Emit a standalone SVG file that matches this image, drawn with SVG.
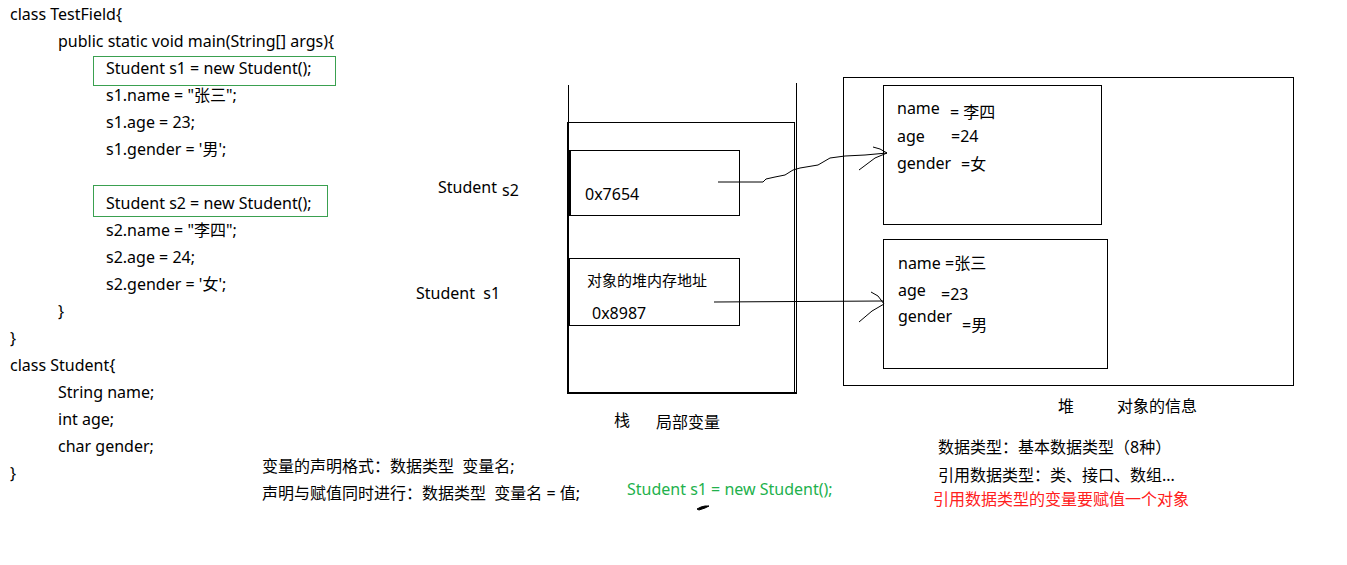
<svg xmlns="http://www.w3.org/2000/svg" width="1347" height="565" viewBox="0 0 1347 565">
<style>
text{font-family:"Noto Sans","Noto Sans CJK SC",sans-serif;font-size:16px;fill:#000;white-space:pre}
.g{fill:#22b14c}
.r{fill:#ff2020}
.box{fill:none;stroke:#000;stroke-width:1}
.hl{fill:none;stroke:#3aa050;stroke-width:1}
.ln{fill:none;stroke:#000;stroke-width:1}
</style>
<rect width="1347" height="565" fill="#fff"/>
<g id="code">
<text x="10" y="20">class TestField{</text>
<text x="58" y="47">public static void main(String[] args){</text>
<rect class="hl" x="93.5" y="56.5" width="242" height="29"/>
<text x="106" y="74">Student s1 = new Student();</text>
<text x="106" y="101">s1.name = "张三";</text>
<text x="106" y="128">s1.age = 23;</text>
<text x="106" y="155">s1.gender = '男';</text>
<rect class="hl" x="93.5" y="185.5" width="234" height="31"/>
<text x="106" y="209">Student s2 = new Student();</text>
<text x="106" y="236">s2.name = "李四";</text>
<text x="106" y="263">s2.age = 24;</text>
<text x="106" y="290">s2.gender = '女';</text>
<text x="58" y="317">}</text>
<text x="10" y="344">}</text>
<text x="10" y="371">class Student{</text>
<text x="58" y="398">String name;</text>
<text x="58" y="425">int age;</text>
<text x="58" y="452">char gender;</text>
<text x="10" y="479">}</text>
</g>
<g id="stack">
<line class="ln" x1="568.5" y1="85" x2="568.5" y2="393"/>
<line class="ln" x1="796.5" y1="83" x2="796.5" y2="394"/>
<rect class="box" x="567.5" y="122.5" width="227" height="271"/>
<line x1="567" y1="393" x2="796" y2="393" stroke="#000" stroke-width="2"/>
<text x="614" y="426">栈</text>
<text x="656" y="428">局部变量</text>
</g>
<g id="s2var">
<rect class="box" x="569.5" y="150.5" width="170" height="65"/>
<line x1="570" y1="150" x2="570" y2="216" stroke="#000" stroke-width="2"/>
<text x="438" y="193">Student</text>
<text x="502" y="196">s2</text>
<text x="585" y="200">0x7654</text>
</g>
<g id="s1var">
<rect class="box" x="569.5" y="258.5" width="170" height="67"/>
<text x="416" y="299">Student  s1</text>
<text x="587" y="286" style="font-size:15px">对象的堆内存地址</text>
<text x="592" y="319">0x8987</text>
</g>
<g id="heap">
<rect class="box" x="843.5" y="77.5" width="450" height="308"/>
<text x="1058" y="412">堆</text>
<text x="1117" y="412">对象的信息</text>
</g>
<g id="obj2">
<rect class="box" x="883.5" y="85.5" width="218" height="139"/>
<text x="897" y="114">name</text>
<text x="950" y="118">= 李四</text>
<text x="897" y="142">age</text>
<text x="951" y="142">=24</text>
<text x="897" y="169">gender</text>
<text x="961" y="170">=女</text>
</g>
<g id="obj1">
<rect class="box" x="883.5" y="239.5" width="224" height="129"/>
<text x="898" y="269">name =张三</text>
<text x="898" y="296">age</text>
<text x="941" y="300">=23</text>
<text x="898" y="322">gender</text>
<text x="962" y="331">=男</text>
</g>
<g id="connectors">
<path class="ln" d="M718,182 L763,182 L766,179 L775,177 L785,175 L793,170 L800,168 L818,165 L830,158 L845,156 L865,155 L887,153"/>
<path class="ln" d="M873,147 L880,149 L887,153 L875,158 L859,170"/>
<path class="ln" d="M714,302 L883,301"/>
<path class="ln" d="M871,292 L878,296 L884,304 L872,311 L859,322"/>
</g>
<g id="notes">
<text x="262" y="472">变量的声明格式：数据类型  变量名;</text>
<text x="262" y="499">声明与赋值同时进行：数据类型  变量名 = 值;</text>
<text class="g" x="627" y="495">Student s1 = new Student();</text>
<path d="M697,509 L701,507 L705,506 L709,506 L705,508 L699,510 Z" fill="#000" stroke="#000" stroke-width="1"/>
<text x="938" y="453">数据类型：基本数据类型（8种）</text>
<text x="938" y="481">引用数据类型：类、接口、数组...</text>
<text class="r" x="933" y="505">引用数据类型的变量要赋值一个对象</text>
</g>
</svg>
